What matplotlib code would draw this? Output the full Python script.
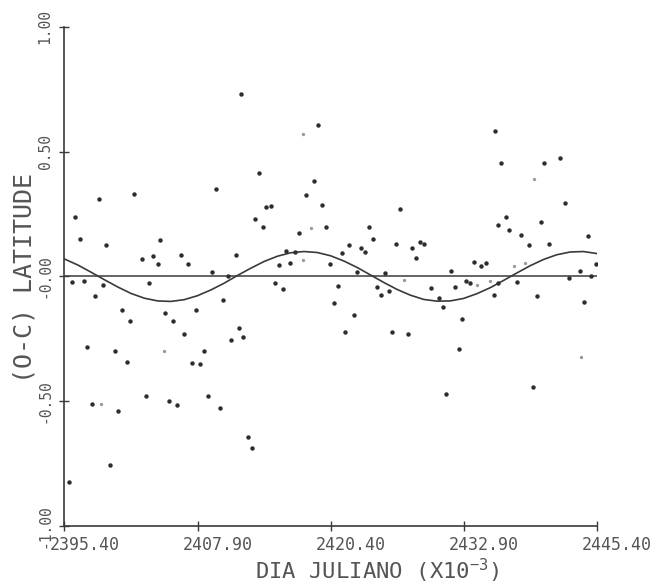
import numpy as np
import matplotlib
matplotlib.use('Agg')
import matplotlib.pyplot as plt
import matplotlib.transforms as mtrans

# observed (O-C) latitude residuals, julian day x 1e-3
jd = [2411.94, 2398.63, 2401.92, 2409.62, 2396.43, 2396.87, 2399.32, 2404.42,
      2402.64, 2403.70, 2404.14, 2406.33, 2407.03, 2411.47, 2409.24, 2410.75,
      2396.12, 2397.21, 2399.00, 2403.32, 2398.28, 2400.82, 2401.54, 2404.83,
      2405.55, 2407.77, 2410.34, 2406.61, 2411.82, 2412.13, 2411.07, 2397.56,
      2400.13, 2401.26, 2408.53, 2407.40, 2408.15, 2397.94, 2400.45, 2403.04,
      2405.24, 2405.95, 2408.93, 2410.00, 2399.72, 2395.78,
      2415.14, 2415.92, 2421.06, 2420.71, 2422.59, 2421.78, 2426.16, 2427.70,
      2424.75, 2425.10, 2425.85, 2412.60, 2412.98,
      2419.21, 2413.63, 2418.83, 2418.11, 2414.32, 2414.76, 2419.62, 2413.26,
      2414.07, 2417.42, 2420.00, 2424.00, 2424.38, 2426.91, 2426.57, 2422.16,
      2423.28, 2423.66, 2421.43, 2416.23, 2417.05, 2415.54, 2416.61, 2420.37,
      2422.88, 2425.54, 2428.08, 2428.42,
      2428.76, 2429.21, 2435.81, 2436.41, 2440.48, 2441.95, 2442.39, 2436.85,
      2436.10, 2440.14, 2437.19, 2438.29, 2439.07, 2440.89, 2444.58, 2433.87,
      2434.97, 2434.56, 2431.68, 2445.31, 2443.83, 2444.90, 2442.77, 2433.15,
      2433.49, 2436.12, 2437.95,
      2429.86, 2432.05, 2430.55, 2430.96, 2435.72, 2439.79, 2444.21, 2432.78,
      2432.43, 2431.27, 2439.45]
oc = [0.730, 0.310, 0.330, 0.350, 0.240, 0.150, 0.125, 0.146,
      0.070, 0.081, 0.049, 0.087, 0.050, 0.085, 0.019, 0.003,
      -0.021, -0.018, -0.034, -0.026, -0.078, -0.134, -0.178, -0.146,
      -0.177, -0.135, -0.093, -0.230, -0.205, -0.243, -0.255, -0.282,
      -0.297, -0.342, -0.298, -0.347, -0.350, -0.510, -0.539, -0.478,
      -0.498, -0.517, -0.479, -0.527, -0.754, -0.823,
      -0.027, -0.050, -0.039, -0.106, -0.155, -0.223, -0.223, -0.229,
      -0.042, -0.074, -0.059, -0.645, -0.686,
      0.606, 0.413, 0.381, 0.325, 0.279, 0.281, 0.286, 0.231,
      0.197, 0.175, 0.197, 0.197, 0.151, 0.271, 0.129, 0.125,
      0.115, 0.098, 0.093, 0.103, 0.098, 0.046, 0.054, 0.049,
      0.019, 0.013, 0.115, 0.073,
      0.137, 0.131, 0.582, 0.453, 0.454, 0.474, 0.295, 0.239,
      0.205, 0.219, 0.186, 0.165, 0.126, 0.131, 0.162, 0.059,
      0.054, 0.042, 0.022, 0.051, 0.022, 0.002, -0.007, -0.017,
      -0.027, -0.027, -0.022,
      -0.047, -0.042, -0.085, -0.123, -0.074, -0.079, -0.103, -0.169,
      -0.290, -0.470, -0.443]

# weakly plotted residuals
jd_weak = [2404.73, 2398.85, 2427.29, 2417.80, 2418.52, 2417.80, 2439.51,
           2437.60, 2438.63, 2434.19, 2435.34, 2443.90]
oc_weak = [-0.298, -0.510, -0.015, 0.570, 0.194, 0.067, 0.390,
           0.043, 0.055, -0.035, -0.017, -0.321]

# adjusted periodic term, read every 1.25 units
curve_jd = [2395.40, 2396.65, 2397.90, 2399.15, 2400.40, 2401.65, 2402.90,
            2404.15, 2405.40, 2406.65, 2407.90, 2409.15, 2410.40, 2411.65,
            2412.90, 2414.15, 2415.40, 2416.65, 2417.90, 2419.15, 2420.40,
            2421.65, 2422.90, 2424.15, 2425.40, 2426.65, 2427.90, 2429.15,
            2430.40, 2431.65, 2432.90, 2434.15, 2435.40, 2436.65, 2437.90,
            2439.15, 2440.40, 2441.65, 2442.90, 2444.15, 2445.40]
curve_oc = [0.070, 0.046, 0.017, -0.013, -0.042, -0.068, -0.087,
            -0.098, -0.100, -0.093, -0.077, -0.054, -0.027, 0.004,
            0.033, 0.060, 0.081, 0.095, 0.100, 0.096, 0.083,
            0.062, 0.036, 0.006, -0.024, -0.052, -0.075, -0.092,
            -0.099, -0.098, -0.088, -0.069, -0.045, -0.016, 0.014,
            0.043, 0.068, 0.087, 0.098, 0.100, 0.092]

xticks = [2395.40, 2407.90, 2420.40, 2432.90, 2445.40]
yticks = [-1.0, -0.5, 0.0, 0.5, 1.0]
ytick_labels = ['-1.00', '-0.50', '-0.00', '0.50', '1.00']

ink = '#3a3a3a'
plt.rcParams['font.family'] = ['DejaVu Sans Mono']
plt.rcParams['mathtext.default'] = 'regular'

fig = plt.figure(figsize=(6.71, 5.85), dpi=100)
ax = fig.add_axes([0.0961, 0.1009, 0.7931, 0.8530])

ax.axhline(0.0, color=ink, lw=1.1, zorder=2)
ax.plot(curve_jd, curve_oc, color=ink, lw=1.2, zorder=3)
ax.plot(jd, oc, 'o', color='#2e2e2e', ms=3.2, mew=0, zorder=4)
ax.plot(jd_weak, oc_weak, 'o', color='#9a9a9a', ms=2.4, mew=0, zorder=4)

ax.set_xlim(2395.4, 2445.4)
ax.set_ylim(-1.0, 1.0)

for s in ['top', 'right']:
    ax.spines[s].set_visible(False)
for s in ['left', 'bottom']:
    ax.spines[s].set_color(ink)
    ax.spines[s].set_linewidth(1.2)

ax.set_xticks(xticks)
ax.set_xticklabels(['%.2f' % t for t in xticks])
ax.set_yticks(yticks)
ax.set_yticklabels(ytick_labels)
ax.tick_params(direction='inout', length=7, width=1.0, color=ink,
               labelcolor='#555555')
ax.tick_params(axis='x', labelsize=12, pad=4)
ax.tick_params(axis='y', labelsize=10.5, pad=5)
plt.setp(ax.get_yticklabels(), rotation=90, va='center')

# x labels sit a bit to the right of their ticks
shift = mtrans.ScaledTranslation(0.2, 0, fig.dpi_scale_trans)
for lab in ax.get_xticklabels():
    lab.set_transform(lab.get_transform() + shift)

fig.text(0.562, 0.024, 'DIA JULIANO (X10$^{-3}$)', ha='center', va='center',
         fontsize=16, color='#555555')
fig.text(0.036, 0.525, '(O-C) LATITUDE', ha='center', va='center',
         rotation=90, fontsize=18, color='#555555')

plt.savefig('out.png', dpi=100, facecolor='white')
